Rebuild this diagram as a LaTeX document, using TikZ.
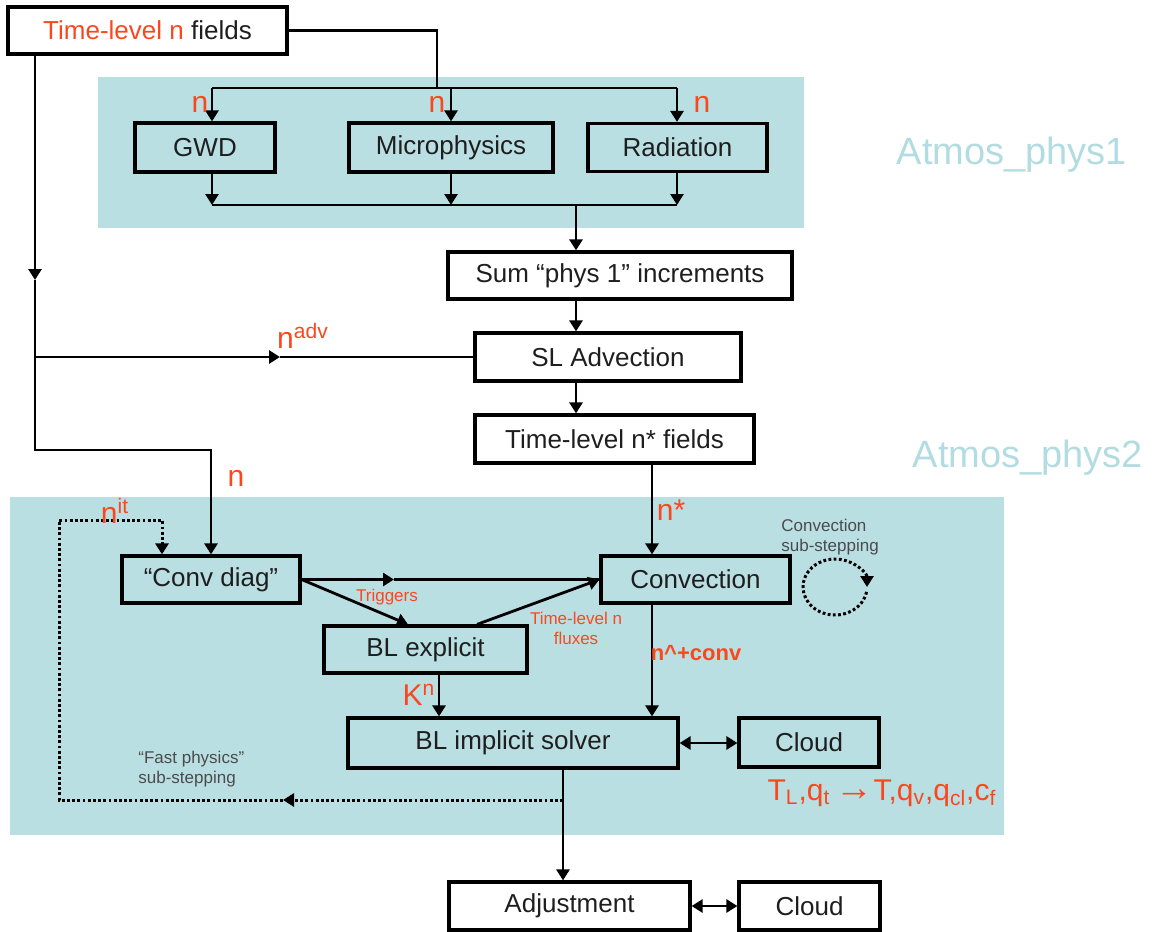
\documentclass[tikz,border=0pt]{standalone}
\usepackage{fontspec}
\setmainfont{Liberation Sans}
\usetikzlibrary{arrows.meta}
\definecolor{physblue}{RGB}{186,223,227}
\definecolor{physlabel}{RGB}{178,220,225}
\definecolor{fieldred}{RGB}{250,72,30}
\definecolor{inktext}{RGB}{30,30,30}
\begin{document}
\begin{tikzpicture}[x=0.5pt,y=-0.5pt,
    >={Triangle[length=5.5pt,width=6.5pt]},
    box/.style={draw=black, line width=1.6pt, inner sep=0pt, text=inktext,
      font=\fontsize{13pt}{15pt}\selectfont},
    flow/.style={line width=1.4pt},
    iter/.style={line width=1.5pt, dash pattern=on 1.4pt off 1.2pt},
    lab/.style={text=fieldred, inner sep=0pt, font=\fontsize{15pt}{17pt}\selectfont},
    small/.style={inner sep=0pt, font=\fontsize{8.5pt}{10pt}\selectfont},
    group/.style={text=physlabel, font=\fontsize{19pt}{22pt}\selectfont}]
  \useasboundingbox (0,0) rectangle (1154,931);
  \fill[physblue] (98,77) rectangle (804,228);
  \fill[physblue] (10,497) rectangle (1004,835);
  \node[group] (phys1) at (1012,155) {Atmos\_phys1};
  \node[group] (phys2) at (1028,458) {Atmos\_phys2};

  \node[box, minimum width=139.5pt, minimum height=23.5pt] (tl) at (147.5,30.5) {\textcolor{fieldred}{Time-level n} fields};
  \node[box, minimum width=70pt, minimum height=24.5pt] (gwd) at (205,147.5) {GWD};
  \node[box, minimum width=102pt, minimum height=24.5pt] (mph) at (451,147.5) {Microphysics};
  \node[box, minimum width=89.5pt, minimum height=24pt] (rad) at (677.5,147.5) {Radiation};
  \node[box, minimum width=172pt, minimum height=23.5pt] (sum) at (620,275.5) {Sum “phys 1” increments};
  \node[box, minimum width=133pt, minimum height=24pt] (sla) at (608,357) {SL Advection};
  \node[box, minimum width=139.5pt, minimum height=24pt] (nst) at (614.5,439) {Time-level n* fields};
  \node[box, minimum width=89pt, minimum height=23.5pt] (cvd) at (211,579.5) {“Conv diag”};
  \node[box, minimum width=94.5pt, minimum height=23.5pt] (conv) at (695.5,579.5) {Convection};
  \node[box, minimum width=101.5pt, minimum height=23.5pt] (ble) at (425.5,649.5) {BL explicit};
  \node[box, minimum width=165pt, minimum height=25pt] (bli) at (513,743) {BL implicit solver};
  \node[box, minimum width=70pt, minimum height=24.5pt] (cld) at (809,742.5) {Cloud};
  \node[box, minimum width=120.5pt, minimum height=24pt] (adj) at (569.5,906) {Adjustment};
  \node[box, minimum width=70.5pt, minimum height=24pt] (cldb) at (809.5,906) {Cloud};

  \coordinate (tap) at (437,88);
  \coordinate (busa) at (212,88);
  \coordinate (busb) at (677,88);
  \coordinate (cola) at (212,205);
  \coordinate (colb) at (677,205);
  \coordinate (colc) at (576,205);
  \coordinate (lx) at (35,280);
  \coordinate (ladv) at (35,357);
  \coordinate (advmid) at (280,357);
  \coordinate (lbend) at (35,450);
  \coordinate (nx) at (652,500);
  \coordinate (cmid) at (394,579.5);
  \coordinate (fx) at (563,800);
  \coordinate (fmid) at (283,800);
  \coordinate (fcorner) at (59,520);
  \coordinate (loop) at (835,587);

  \draw[flow] (tl.east) -| (tap);
  \draw[flow] (busa) -- (busb);
  \draw[flow,->] (busa) -- (busa |- gwd.north);
  \draw[flow,->] (mph.north |- busa) -- (mph.north);
  \draw[flow,->] (busb) -- (busb |- rad.north);
  \draw[flow,->] (cola |- gwd.south) -- (cola);
  \draw[flow,->] (mph.south) -- (mph.south |- cola);
  \draw[flow,->] (colb |- rad.south) -- (colb);
  \draw[flow] (cola) -- (colb);
  \draw[flow,->] (colc) -- (colc |- sum.north);
  \draw[flow,->] (colc |- sum.south) -- (colc |- sla.north);
  \draw[flow,->] (colc |- sla.south) -- (colc |- nst.north);
  \draw[flow,->] (tl.south -| lx) -- (lx);
  \draw[flow,->] (lx) -- (lbend) -| (cvd.north);
  \draw[flow,->] (ladv) -- (advmid);
  \draw[flow] (advmid) -- (sla.west);
  \draw[flow,->] (nst.south -| nx) -- (conv.north -| nx);
  \draw[flow,->] (cvd.east) -- (cmid);
  \draw[flow] (cmid) -- (conv.west);
  \draw[flow,->] (cvd.east) -- ([xshift=-8.75pt]ble.north);
  \draw[flow,->] ([xshift=25.75pt]ble.north) -- (conv.west);
  \draw[flow,->] ([xshift=6.75pt]ble.south) -- ([xshift=6.75pt]ble.south |- bli.north);
  \draw[flow,->] (conv.south -| nx) -- (bli.north -| nx);
  \draw[flow,<->] (bli.east) -- (bli.east -| cld.west);
  \draw[flow,<->] (adj.east) -- (cldb.west);
  \draw[flow,->] (bli.south -| fx) -- (adj.north -| fx);
  \draw[iter,->] (fx) -- (fmid);
  \draw[iter,->] (fmid) -- (fmid -| fcorner) -- (fcorner) -| ([xshift=-24.5pt]cvd.north);
  \draw[iter,->] (loop) ++(350:16pt and 14pt) arc[start angle=350, end angle=0, x radius=16pt, y radius=14pt];

  \node[lab] (ngwd) at (200,104) {n};
  \node[lab] (nmph) at (437,104) {n};
  \node[lab] (nrad) at (702,104) {n};
  \node[lab] (nadv) at (303,336) {n\textsuperscript{adv}};
  \node[lab] (nold) at (236,478) {n};
  \node[lab] (nit) at (115,511) {n\textsuperscript{it}};
  \node[lab] (nstar) at (671,510) {n*};
  \node[lab, font=\bfseries\fontsize{11pt}{13pt}\selectfont] (nconv) at (696,653) {n\textasciicircum+conv};
  \node[lab] (kn) at (419,695) {K\textsuperscript{n}};
  \node[lab] (tq) at (882,793) {T\textsubscript{L},q\textsubscript{t}\,{\bfseries\fontsize{19pt}{19pt}\selectfont →}T,q\textsubscript{v},q\textsubscript{cl},c\textsubscript{f}};
  \node[small, text=fieldred] (trig) at (387,597) {Triggers};
  \node[small, text=fieldred, align=center] (flux) at (576,628) {Time-level n\\fluxes};
  \node[small, text=inktext!80, align=left, anchor=west] (csub) at (781,537) {Convection\\sub-stepping};
  \node[small, text=inktext!80, align=left, anchor=west] (fsub) at (138,769) {“Fast physics”\\sub-stepping};
\end{tikzpicture}
\end{document}
